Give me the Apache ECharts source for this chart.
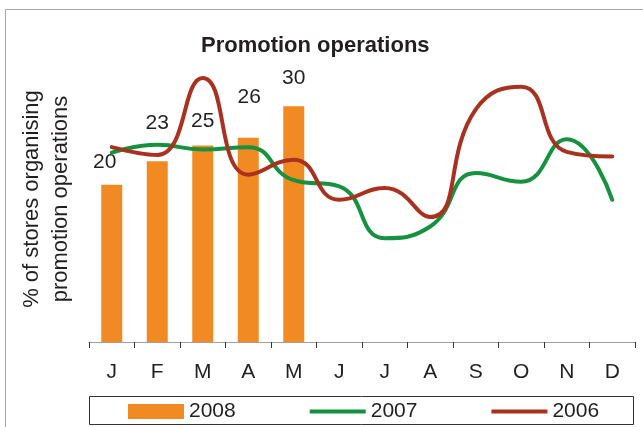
<!DOCTYPE html>
<html>
<head>
<meta charset="utf-8">
<script src="https://cdn.jsdelivr.net/npm/echarts@6/dist/echarts.min.js"></script>
<style>
html,body{margin:0;padding:0;background:#fff;}
#chart{width:643px;height:427px;}
</style>
</head>
<body>
<div id="chart"></div>
<script>
var months = ['J','F','M','A','M','J','J','A','S','O','N','D'];
var values2008 = [20, 23, 25, 26, 30];
var values2007 = [24.1, 25.1, 24.5, 24.8, 20.6, 19.8, 13.2, 14.7, 21.5, 20.4, 25.8, 18.1];
var values2006 = [24.8, 23.8, 33.6, 21.3, 23.2, 18.1, 19.6, 15.9, 29.6, 32.5, 24.2, 23.6];
var seriesNames = ['2008', '2007', '2006'];
var titleText = 'Promotion operations';
var yTitle = '% of stores organising\npromotion operations';

var FONT = '"Liberation Sans", Arial, sans-serif';
var TXT = '#231f20';
var labelOffsets = [[-7,-12],[0,-28],[0,-14],[1,-30],[0,-18]];
var LINE_ICON = 'path://M0,0h56v4h-56z';

var chart = echarts.init(document.getElementById('chart'), null, {renderer:'canvas'});
var barData = values2008.map(function(v,i){
  return {value:v, label:{offset:labelOffsets[i]}};
});
chart.setOption({
  animation:false,
  backgroundColor:'#fff',
  textStyle:{fontFamily:FONT},
  title:{
    text:titleText, left:196, top:30, padding:5,
    textStyle:{fontFamily:FONT, fontSize:22, fontWeight:'bold', color:TXT}
  },
  grid:{left:89, right:8, top:67, bottom:85, containLabel:false},
  xAxis:{
    type:'category', data:months, boundaryGap:true,
    axisLine:{show:true, lineStyle:{color:'#a0a0a0', width:1}},
    axisTick:{show:true, length:6, lineStyle:{color:'#333', width:1}},
    axisLabel:{fontFamily:FONT, fontSize:21, color:TXT, margin:20, interval:0},
    splitLine:{show:false}
  },
  yAxis:{type:'value', min:0, max:35, show:false, splitLine:{show:false}},
  legend:{
    data:[
      {name:seriesNames[0], icon:'rect'},
      {name:seriesNames[1], icon:LINE_ICON},
      {name:seriesNames[2], icon:LINE_ICON}
    ],
    left:128, top:401, padding:0,
    itemWidth:56, itemHeight:15, itemGap:74, symbolKeepAspect:true,
    textStyle:{fontFamily:FONT, fontSize:21, color:TXT}
  },
  graphic:[
    {type:'rect', silent:true, z:-10, shape:{x:5.5, y:9.5, width:700, height:500},
     style:{fill:'none', stroke:'#a8a8a8', lineWidth:1}},
    {type:'rect', silent:true, shape:{x:89.5, y:396.5, width:544, height:28},
     style:{fill:'none', stroke:'#333', lineWidth:1}},
    {type:'text', silent:true, x:46, y:199, rotation:Math.PI/2,
     style:{text:yTitle, fontFamily:FONT, fontSize:22, lineHeight:29, fill:TXT,
            textAlign:'center', textVerticalAlign:'middle', align:'center', verticalAlign:'middle'}}
  ],
  series:[
    {name:seriesNames[0], type:'bar', data:barData, barWidth:21,
     itemStyle:{color:'#f28a24'},
     label:{show:true, position:'top', distance:0, fontFamily:FONT, fontSize:21, color:TXT}},
    {name:seriesNames[1], type:'line', data:values2007, smooth:0.5, symbol:'none', showSymbol:false,
     lineStyle:{color:'#16913f', width:4, cap:'round', join:'round'}, itemStyle:{color:'#16913f'}},
    {name:seriesNames[2], type:'line', data:values2006, smooth:0.5, symbol:'none', showSymbol:false,
     lineStyle:{color:'#a8311f', width:4, cap:'round', join:'round'}, itemStyle:{color:'#a8311f'}}
  ]
});
</script>
</body>
</html>
